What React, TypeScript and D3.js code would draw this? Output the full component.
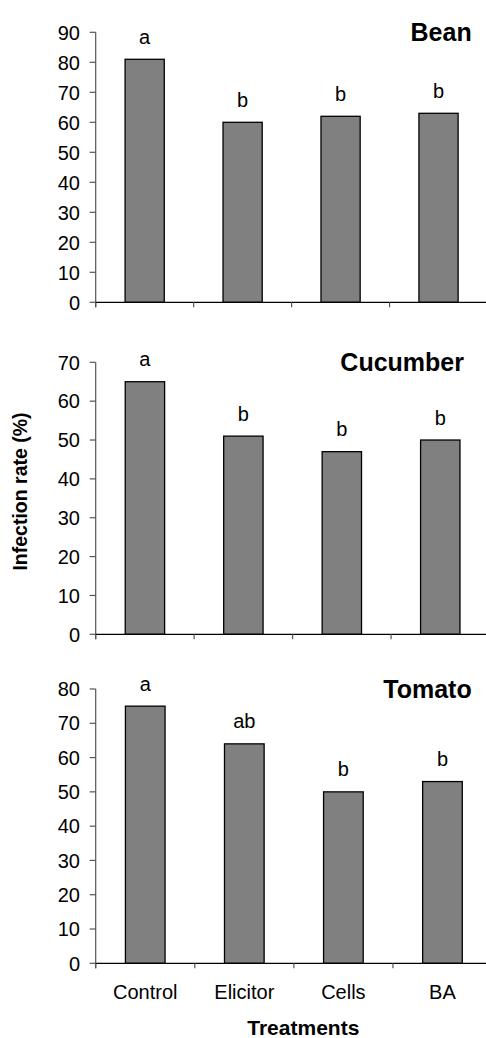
import React from "react";
import * as d3 from "d3";

// Treatments along the x axis
const categories = ["Control", "Elicitor", "Cells", "BA"];

// Infection rate (%) per crop, one value per treatment
const beanValues = [81, 60, 62, 63];
const cucumberValues = [65, 51, 47, 50];
const tomatoValues = [75, 64, 50, 53];

// Significance letters above each bar
const beanLetters = ["a", "b", "b", "b"];
const cucumberLetters = ["a", "b", "b", "b"];
const tomatoLetters = ["a", "ab", "b", "b"];

// Y-axis tick values per panel
const beanTicks = [0, 10, 20, 30, 40, 50, 60, 70, 80, 90];
const cucumberTicks = [0, 10, 20, 30, 40, 50, 60, 70];
const tomatoTicks = [0, 10, 20, 30, 40, 50, 60, 70, 80];

const panelTitles = ["Bean", "Cucumber", "Tomato"];

const FONT = "'Liberation Sans', Arial, Helvetica, sans-serif";
const W = 486;
const H = 1038;
const AXIS_X = 95.7;

type Layout = { top: number; bottom: number; right: number; titleX: number };

const layouts: Layout[] = [
  { top: 32.3, bottom: 302.3, right: 487.5, titleX: 471.7 },
  { top: 362.3, bottom: 634.3, right: 489.5, titleX: 464 },
  { top: 689, bottom: 963.3, right: 492, titleX: 471.7 },
];

const panels = [
  { title: panelTitles[0], values: beanValues, letters: beanLetters, ticks: beanTicks },
  { title: panelTitles[1], values: cucumberValues, letters: cucumberLetters, ticks: cucumberTicks },
  { title: panelTitles[2], values: tomatoValues, letters: tomatoLetters, ticks: tomatoTicks },
];

function Panel({
  title,
  values,
  letters,
  ticks,
  layout,
  showCategories,
}: {
  title: string;
  values: number[];
  letters: string[];
  ticks: number[];
  layout: Layout;
  showCategories: boolean;
}) {
  const yMax = ticks[ticks.length - 1];
  const y = d3.scaleLinear().domain([0, yMax]).range([layout.bottom, layout.top]);
  const x = d3
    .scaleBand<string>()
    .domain(categories)
    .range([AXIS_X, layout.right])
    .paddingInner(0.6)
    .paddingOuter(0.3);
  const step = x.step();
  const bw = x.bandwidth();

  return (
    <g>
      {/* bars */}
      {values.map((v, i) => (
        <rect
          key={"bar" + i}
          x={x(categories[i])!}
          y={y(v)}
          width={bw}
          height={y(0) - y(v)}
          fill="#808080"
          stroke="#000"
          strokeWidth={1.3}
        />
      ))}
      {/* significance letters */}
      {values.map((v, i) => (
        <text
          key={"lt" + i}
          x={x(categories[i])! + bw / 2}
          y={y(v) - 15.5}
          textAnchor="middle"
          fontSize={20}
          fontFamily={FONT}
          fill="#000"
        >
          {letters[i]}
        </text>
      ))}
      {/* y axis */}
      <line x1={AXIS_X} x2={AXIS_X} y1={y(yMax)} y2={y(0) + 5} stroke="#555" strokeWidth={1.2} />
      {ticks.map((t) => (
        <g key={"yt" + t}>
          <line x1={AXIS_X - 6} x2={AXIS_X} y1={y(t)} y2={y(t)} stroke="#555" strokeWidth={1.2} />
          <text
            x={80}
            y={y(t)}
            dy="0.36em"
            textAnchor="end"
            fontSize={20}
            fontFamily={FONT}
            fill="#000"
          >
            {t}
          </text>
        </g>
      ))}
      {/* x axis */}
      <line x1={AXIS_X} x2={W} y1={y(0)} y2={y(0)} stroke="#000" strokeWidth={1.3} />
      {categories.map((c, i) => (
        <line
          key={"xt" + c}
          x1={AXIS_X + step * i}
          x2={AXIS_X + step * i}
          y1={y(0)}
          y2={y(0) + 5}
          stroke="#555"
          strokeWidth={1.2}
        />
      ))}
      {showCategories &&
        categories.map((c) => (
          <text
            key={"cl" + c}
            x={x(c)! + bw / 2}
            y={y(0) + 36}
            textAnchor="middle"
            fontSize={20}
            fontFamily={FONT}
            fill="#000"
          >
            {c}
          </text>
        ))}
      {/* crop title */}
      <text
        x={layout.titleX}
        y={layout.top + 8.5}
        textAnchor="end"
        fontSize={25}
        fontWeight="bold"
        fontFamily={FONT}
        fill="#000"
      >
        {title}
      </text>
    </g>
  );
}

export default function App() {
  return (
    <svg
      width={W}
      height={H}
      viewBox={`0 0 ${W} ${H}`}
      style={{ position: "absolute", left: 0, top: 0, background: "#fff" }}
    >
      <rect x={0} y={0} width={W} height={H} fill="#fff" />
      {panels.map((p, i) => (
        <Panel
          key={p.title}
          title={p.title}
          values={p.values}
          letters={p.letters}
          ticks={p.ticks}
          layout={layouts[i]}
          showCategories={i === panels.length - 1}
        />
      ))}
      <text
        transform="translate(26.7,491.5) rotate(-90)"
        textAnchor="middle"
        fontSize={19.5}
        fontWeight="bold"
        fontFamily={FONT}
        fill="#000"
      >
        Infection rate (%)
      </text>
      <text
        x={303.3}
        y={1035}
        textAnchor="middle"
        fontSize={21}
        fontWeight="bold"
        fontFamily={FONT}
        fill="#000"
      >
        Treatments
      </text>
    </svg>
  );
}
